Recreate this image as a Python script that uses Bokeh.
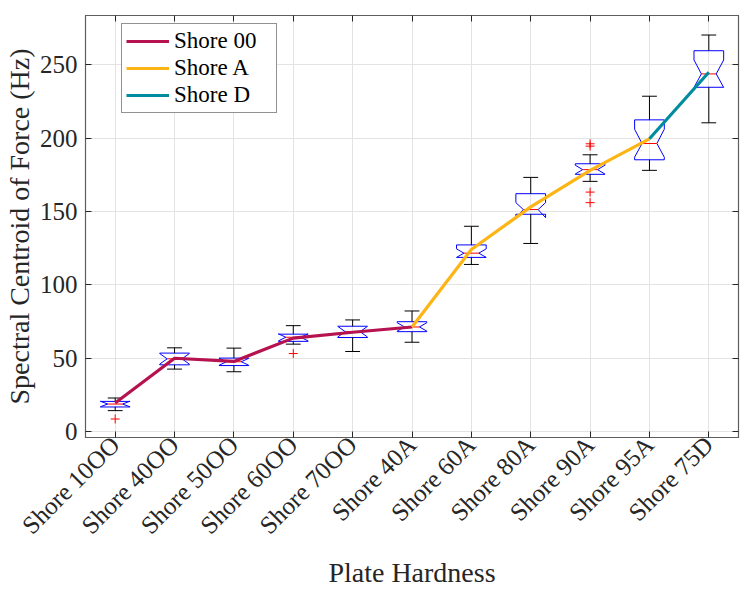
import math
from bokeh.plotting import figure
from bokeh.models import (FixedTicker, LinearAxis, Range1d, Legend, LegendItem)
from bokeh.embed import file_html
from bokeh.resources import INLINE

# ---------------- data ----------------
categories = ["Shore 10OO", "Shore 40OO", "Shore 50OO", "Shore 60OO", "Shore 70OO",
              "Shore 40A", "Shore 60A", "Shore 80A", "Shore 90A", "Shore 95A", "Shore 75D"]
q1 =       [16.8, 45.5, 45.0, 61.5, 64.1, 68.1, 118.7, 148.1, 175.3, 185.2, 234.6]
median =   [18.8, 49.6, 47.6, 64.3, 68.1, 71.3, 121.6, 151.3, 178.5, 196.3, 243.7]
q3 =       [20.6, 53.5, 50.1, 66.4, 71.8, 74.9, 127.2, 162.1, 182.5, 212.4, 259.5]
notch_lo = [16.9, 46.0, 45.2, 61.8, 64.5, 68.5, 118.7, 145.8, 175.5, 187.0, 234.5]
notch_hi = [20.7, 53.2, 50.0, 66.6, 71.7, 74.2, 124.5, 156.0, 181.5, 206.0, 253.2]
whisk_lo = [14.3, 42.6, 40.8, 59.6, 54.6, 60.9, 113.9, 128.2, 170.5, 178.0, 210.4]
whisk_hi = [22.9, 57.1, 56.9, 72.2, 76.1, 82.2, 139.9, 173.2, 188.6, 228.5, 270.2]
outlier_cat = ["Shore 10OO", "Shore 60OO", "Shore 90A", "Shore 90A", "Shore 90A", "Shore 90A"]
outlier_val = [8.6, 53.2, 196.1, 194.5, 163.2, 156.0]
mean_values = [19.5, 50.0, 47.8, 63.7, 67.7, 71.3, 124.1, 153.1, 178.0, 199.5, 244.8]
series_names = ["Shore 00", "Shore A", "Shore D"]
series_first = ["Shore 10OO", "Shore 40A", "Shore 95A"]
series_last = ["Shore 40A", "Shore 95A", "Shore 75D"]
series_colors = ["#B5124F", "#FDB515", "#008C9E"]
y_ticks = [0, 50, 100, 150, 200, 250]

# ---------------- figure ----------------
FONT = "Liberation Serif"
p = figure(width=747, height=591, output_backend="svg", toolbar_location=None,
           x_range=Range1d(0.5, 11.5), y_range=Range1d(-4, 283.5),
           min_border_left=83, min_border_right=9, min_border_top=15, min_border_bottom=153)
p.background_fill_color = "white"
p.outline_line_color = "#5e5e5e"
p.outline_line_width = 1.2

xpos = {c: i + 1 for i, c in enumerate(categories)}
hw = 0.25

# boxes (notched)
xs, ys = [], []
for i, c in enumerate(categories):
    x = xpos[c]
    xs.append([x - hw, x - hw, x - hw / 2, x - hw, x - hw, x + hw, x + hw, x + hw / 2, x + hw, x + hw])
    ys.append([q1[i], notch_lo[i], median[i], notch_hi[i], q3[i], q3[i], notch_hi[i], median[i], notch_lo[i], q1[i]])
p.patches(xs, ys, fill_color=None, line_color="#0000FF", line_width=1)

# whiskers
wx0, wy0, wx1, wy1 = [], [], [], []
cx0, cy, cx1 = [], [], []
for i, c in enumerate(categories):
    x = xpos[c]
    wx0 += [x, x]; wx1 += [x, x]
    wy0 += [q3[i], q1[i]]; wy1 += [whisk_hi[i], whisk_lo[i]]
    cx0 += [x - hw / 2, x - hw / 2]; cx1 += [x + hw / 2, x + hw / 2]
    cy += [whisk_hi[i], whisk_lo[i]]
p.segment(wx0, wy0, wx1, wy1, line_color="#000000", line_width=1)
p.segment(cx0, cy, cx1, cy, line_color="#000000", line_width=1)

# medians
mx0 = [xpos[c] - hw / 2 for c in categories]
mx1 = [xpos[c] + hw / 2 for c in categories]
p.segment(mx0, median, mx1, median, line_color="#FF0000", line_width=1)

# outliers
p.scatter([xpos[c] for c in outlier_cat], outlier_val, marker="cross", size=9,
          line_color="#FF0000", line_width=1)

# mean lines
items = []
for name, a, b, col in zip(series_names, series_first, series_last, series_colors):
    i0, i1 = categories.index(a), categories.index(b)
    r = p.line([xpos[c] for c in categories[i0:i1 + 1]], mean_values[i0:i1 + 1],
               line_color=col, line_width=3.2)
    items.append(LegendItem(label=name, renderers=[r]))

legend = Legend(items=items, location=(36, 324))
legend.label_text_font = FONT
legend.label_text_font_size = "23px"
legend.label_text_color = "#000000"
legend.border_line_color = "#262626"
legend.border_line_width = 1
legend.background_fill_color = "white"
legend.background_fill_alpha = 1
legend.glyph_width = 43
legend.glyph_height = 20
legend.label_height = 24
legend.label_width = 98
legend.spacing = 1
legend.padding = 4
legend.margin = 0
legend.label_standoff = 5
p.add_layout(legend, "center")

# axes
p.xaxis.ticker = FixedTicker(ticks=[xpos[c] for c in categories])
p.xaxis.major_label_overrides = {xpos[c]: c for c in categories}
p.xaxis.major_label_orientation = math.pi / 4
p.yaxis.ticker = FixedTicker(ticks=y_ticks)
p.xaxis.axis_label = "Plate Hardness"
p.yaxis.axis_label = "Spectral Centroid of Force (Hz)"
for ax in [p.xaxis[0], p.yaxis[0]]:
    ax.axis_line_color = "#5e5e5e"
    ax.major_tick_line_color = "#262626"
    ax.major_tick_in = 6
    ax.major_tick_out = 0
    ax.minor_tick_line_color = None
    ax.major_label_text_font = FONT
    ax.major_label_text_font_size = "25px"
    ax.major_label_text_color = "#262626"
    ax.axis_label_text_font = FONT
    ax.axis_label_text_font_size = "28px"
    ax.axis_label_text_font_style = "normal"
    ax.axis_label_text_color = "#262626"
p.yaxis.major_label_standoff = 8
p.xaxis.major_label_standoff = 3
p.yaxis.axis_label_standoff = 2
p.xaxis.axis_label_standoff = 6

# mirrored ticks on top and right (no labels)
top = LinearAxis(ticker=FixedTicker(ticks=[xpos[c] for c in categories]))
right = LinearAxis(ticker=FixedTicker(ticks=y_ticks))
for ax in [top, right]:
    ax.major_label_text_font_size = "1px"
    ax.major_label_text_color = None
    ax.major_label_standoff = 0
    ax.major_tick_in = 6
    ax.major_tick_out = 0
    ax.minor_tick_line_color = None
    ax.axis_line_color = "#5e5e5e"
    ax.major_tick_line_color = "#262626"
p.add_layout(top, "above")
p.add_layout(right, "right")

p.xgrid.ticker = FixedTicker(ticks=[xpos[c] for c in categories])
p.ygrid.ticker = FixedTicker(ticks=y_ticks)
p.grid.grid_line_color = "#e3e3e3"
p.grid.grid_line_width = 1

open("out.html", "w").write(file_html(p, INLINE))
